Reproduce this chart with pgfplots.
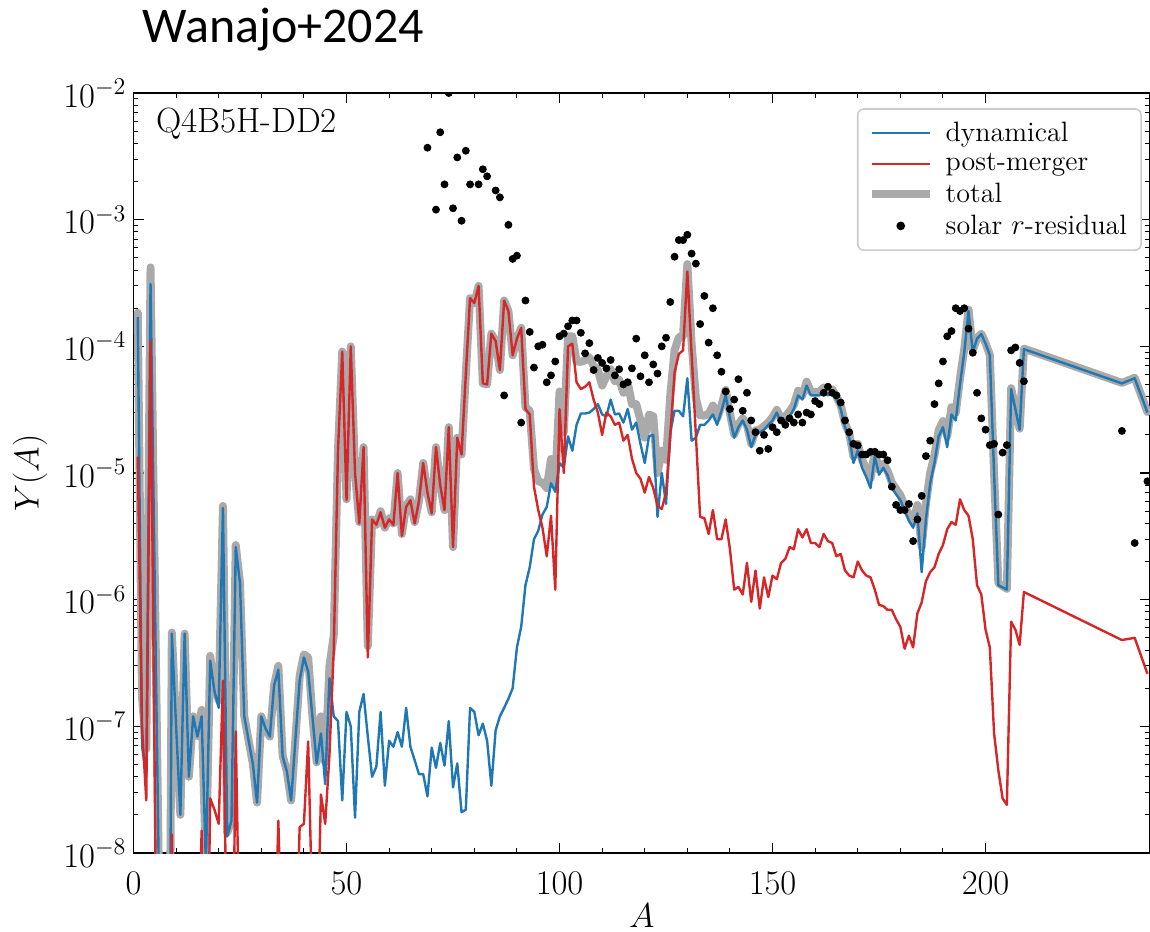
\documentclass[border=0pt]{standalone}
\usepackage{fontspec}
\newfontfamily\titlefont{Carlito}
\usepackage{pgfplots}
\usepackage{pgfplotstable}
\pgfplotsset{compat=1.18}
\definecolor{cblue}{HTML}{1F77B4}
\definecolor{cred}{HTML}{D62728}
\definecolor{cgray}{HTML}{AAAAAA}

\pgfplotstableread{
A dyn pm tot
1 1.7e-4 1.35e-5 1.84e-4
2 7e-8 1e-7 1.7e-7
3 4e-8 2.6e-8 6.6e-8
4 3.1e-4 1.1e-4 4.2e-4
6 5e-9 1e-11 5e-9
7 1e-10 1e-11 1.1e-10
8 1e-12 1e-12 2e-12
9 5.4e-7 1.4e-8 5.5e-7
10 1e-7 1e-10 1e-7
11 2e-8 1e-10 2e-8
12 5.4e-7 2e-9 5.4e-7
13 4e-8 1e-10 4e-8
14 1.2e-7 1e-9 1.2e-7
15 8.3e-8 1e-9 8.4e-8
16 1.2e-7 1.5e-8 1.35e-7
17 8e-9 1e-10 8e-9
18 3.3e-7 2.7e-8 3.6e-7
19 1.9e-7 2.2e-8 2.1e-7
20 1.4e-7 1.7e-8 1.6e-7
21 5.3e-6 2.3e-7 5.5e-6
22 1.35e-8 1e-9 1.45e-8
23 1.8e-8 1e-10 1.8e-8
24 2.6e-6 9.1e-8 2.7e-6
25 1.35e-6 1e-9 1.35e-6
26 1.2e-7 1e-10 1.2e-7
27 7.8e-8 1e-10 7.8e-8
28 5.1e-8 1e-10 5.1e-8
29 2.5e-8 1e-10 2.5e-8
30 1.2e-7 1e-10 1.2e-7
31 9.6e-8 1e-10 9.6e-8
32 8.3e-8 1e-10 8.3e-8
33 2.1e-7 1e-9 2.1e-7
34 2.8e-7 1.8e-8 3.0e-7
35 5.8e-8 1e-9 5.9e-8
36 4.4e-8 1e-10 4.4e-8
37 2.6e-8 1e-10 2.6e-8
38 7.8e-8 1e-9 7.9e-8
39 2.3e-7 1.6e-8 2.5e-7
40 3.5e-7 1.7e-8 3.7e-7
41 2.7e-7 7.6e-8 3.5e-7
42 1.2e-7 3e-9 1.2e-7
43 5.1e-8 1e-9 5.2e-8
44 8.8e-8 2.9e-8 1.2e-7
45 3.5e-8 1.7e-8 5.2e-8
46 2.4e-7 6e-8 3.0e-7
47 1.2e-7 4e-7 5.2e-7
48 1.1e-7 1.5e-5 1.5e-5
49 2.6e-8 9.1e-5 9.1e-5
50 1.3e-7 6.1e-6 6.2e-6
51 1e-7 1e-4 1e-4
52 1.9e-8 1e-5 1e-5
53 1.3e-7 4e-6 4.1e-6
54 1.8e-7 1.6e-5 1.6e-5
55 8.3e-8 3.5e-7 4.3e-7
56 4e-8 4.3e-6 4.3e-6
57 4.8e-8 3.9e-6 3.9e-6
58 1.3e-7 4.9e-6 5.0e-6
59 3.4e-8 3.7e-6 3.7e-6
60 7.7e-8 4.3e-6 4.4e-6
61 6.9e-8 3.9e-6 4.0e-6
62 9e-8 1.0e-5 1.0e-5
63 6.9e-8 3.2e-6 3.3e-6
64 1.4e-7 5.4e-6 5.5e-6
65 6.9e-8 6.1e-6 6.2e-6
66 5.4e-8 4e-6 4.1e-6
67 4.2e-8 6e-6 6.0e-6
68 4.2e-8 1.2e-5 1.2e-5
69 2.8e-8 7e-6 7.0e-6
70 6.8e-8 4.8e-6 4.9e-6
71 4.7e-8 1.6e-5 1.6e-5
72 7.4e-8 8e-6 8.1e-6
73 4.9e-8 5.1e-6 5.1e-6
74 1.1e-7 2.3e-5 2.3e-5
75 3.3e-8 2.6e-6 2.6e-6
76 5.1e-8 1.9e-5 1.9e-5
77 2.1e-8 1.4e-5 1.4e-5
78 2.2e-8 6e-5 6e-5
79 1.4e-7 2.4e-4 2.4e-4
80 1.3e-7 2.2e-4 2.2e-4
81 8.5e-8 3.0e-4 3.0e-4
82 1.05e-7 5.1e-5 5.1e-5
83 7.7e-8 5.0e-5 5.0e-5
84 3.4e-8 1.26e-4 1.26e-4
85 9.3e-8 1.1e-4 1.1e-4
86 1.2e-7 6.5e-5 6.5e-5
87 1.4e-7 2.3e-4 2.3e-4
88 1.65e-7 1.9e-4 1.9e-4
89 2.0e-7 8.5e-5 8.5e-5
90 4.2e-7 1.15e-4 1.15e-4
91 6.1e-7 1.4e-4 1.4e-4
92 1.3e-6 3.2e-5 3.3e-5
93 1.8e-6 2.9e-5 3.1e-5
94 3e-6 7.8e-6 1.08e-5
95 3.5e-6 5.1e-6 8.6e-6
96 4.7e-6 3.7e-6 8.4e-6
97 5.4e-6 2.2e-6 7.6e-6
98 8.3e-6 4.6e-6 1.29e-5
99 7.1e-6 1.2e-6 8.3e-6
100 1.2e-5 3.2e-5 4.4e-5
101 1.1e-5 1e-5 2.1e-5
102 1.95e-5 1e-4 1.2e-4
103 1.5e-5 1.05e-4 1.2e-4
104 2.4e-5 5.2e-5 7.6e-5
105 2.95e-5 4.6e-5 7.55e-5
106 2.95e-5 4.8e-5 7.75e-5
107 3.0e-5 5.2e-5 8.2e-5
108 3.2e-5 3.8e-5 7.0e-5
109 3.5e-5 3e-5 6.5e-5
110 2.9e-5 2e-5 4.9e-5
111 2.8e-5 3e-5 5.8e-5
112 3.8e-5 2.8e-5 6.6e-5
113 2.9e-5 2.4e-5 5.3e-5
114 2.95e-5 2.5e-5 5.45e-5
115 2.5e-5 1.8e-5 4.3e-5
116 3.2e-5 2e-5 5.2e-5
117 2.2e-5 1.3e-5 3.5e-5
118 2.5e-5 1e-5 3.5e-5
119 1.7e-5 9e-6 2.6e-5
120 1.2e-5 7e-6 1.9e-5
121 1.95e-5 9.3e-6 2.9e-5
122 2e-5 7.6e-6 2.8e-5
123 4.5e-6 5.5e-6 1.0e-5
124 1.0e-5 5.2e-6 1.5e-5
125 5.7e-6 7e-6 1.27e-5
126 2.1e-5 2.0e-5 4.1e-5
127 3.1e-5 6.2e-5 9.3e-5
128 3.1e-5 8.7e-5 1.18e-4
129 2.8e-5 9.3e-5 1.21e-4
130 5.6e-5 3.9e-4 4.46e-4
131 1.8e-5 8.7e-5 1.05e-4
132 1.9e-5 2e-5 3.9e-5
133 2.4e-5 4.5e-6 2.85e-5
134 2.4e-5 4.4e-6 2.84e-5
135 2.6e-5 3.3e-6 2.93e-5
136 2.9e-5 5.1e-6 3.41e-5
137 2.4e-5 3e-6 2.7e-5
138 3.1e-5 3e-6 3.4e-5
139 4.1e-5 4.3e-6 4.53e-5
140 2.7e-5 2.5e-6 2.95e-5
141 1.9e-5 1.2e-6 2.02e-5
142 2.3e-5 1.26e-6 2.43e-5
143 2.6e-5 1.1e-6 2.71e-5
144 2.2e-5 1.95e-6 2.4e-5
145 1.6e-5 9.6e-7 1.7e-5
146 2.0e-5 1.7e-6 2.17e-5
147 2.1e-5 8.5e-7 2.19e-5
148 2.2e-5 1.5e-6 2.35e-5
149 2.4e-5 1.05e-6 2.5e-5
150 2.6e-5 1.55e-6 2.76e-5
151 3.0e-5 1.45e-6 3.15e-5
152 2.5e-5 1.95e-6 2.7e-5
153 2.6e-5 2.1e-6 2.8e-5
154 2.8e-5 2.6e-6 3.06e-5
155 3.2e-5 2.5e-6 3.45e-5
156 4.1e-5 3.6e-6 4.46e-5
157 3.8e-5 3.1e-6 4.1e-5
158 4.9e-5 3.6e-6 5.26e-5
159 4.1e-5 2.8e-6 4.38e-5
160 4.1e-5 2.8e-6 4.38e-5
161 4.1e-5 2.6e-6 4.36e-5
162 4.4e-5 3.3e-6 4.73e-5
163 4.1e-5 2.9e-6 4.39e-5
164 4.3e-5 2.8e-6 4.58e-5
165 3.8e-5 2.2e-6 4.02e-5
166 3.2e-5 2.3e-6 3.43e-5
167 2.3e-5 1.7e-6 2.47e-5
168 1.9e-5 1.55e-6 2.05e-5
169 1.2e-5 1.5e-6 1.35e-5
170 1.5e-5 2.0e-6 1.7e-5
171 1.1e-5 1.7e-6 1.27e-5
172 9.3e-6 1.55e-6 1.08e-5
173 7.6e-6 1.5e-6 9.1e-6
174 1.35e-5 1.2e-6 1.47e-5
175 9.7e-6 9.1e-7 1.06e-5
176 1.1e-5 8.9e-7 1.19e-5
177 9.6e-6 8.3e-7 1.04e-5
178 7.6e-6 8.3e-7 8.4e-6
179 6.8e-6 7e-7 7.5e-6
180 6.1e-6 6.1e-7 6.7e-6
181 5.1e-6 4.1e-7 5.5e-6
182 4.2e-6 5.2e-7 4.7e-6
183 3.7e-6 4.2e-7 4.1e-6
184 4.8e-6 7.8e-7 5.6e-6
185 1.65e-6 9.5e-7 2.6e-6
186 4.3e-6 1.4e-6 5.7e-6
187 8.3e-6 1.65e-6 1.0e-5
188 1.2e-5 1.8e-6 1.38e-5
189 1.95e-5 2.3e-6 2.18e-5
190 2.3e-5 2.7e-6 2.57e-5
191 1.6e-5 3.6e-6 1.96e-5
192 2.9e-5 4.1e-6 3.31e-5
193 2.6e-5 3.9e-6 2.99e-5
194 5e-5 6.2e-6 5.6e-5
195 9e-5 5.1e-6 9.5e-5
196 1.9e-4 4.6e-6 1.95e-4
197 9e-5 3e-6 9.3e-5
198 1.15e-4 1.3e-6 1.16e-4
199 1.25e-4 1.1e-6 1.26e-4
200 1.05e-4 5.8e-7 1.06e-4
201 8.5e-5 4.2e-7 8.54e-5
202 1e-5 8.8e-8 1.0e-5
203 1.3e-6 4.5e-8 1.35e-6
204 1.25e-6 2.7e-8 1.28e-6
205 1.2e-6 2.4e-8 1.22e-6
206 4.6e-5 6.7e-7 4.67e-5
207 3.2e-5 5.8e-7 3.26e-5
208 2.2e-5 4.4e-7 2.24e-5
209 9.5e-5 1.15e-6 9.6e-5
232 5.1e-5 4.8e-7 5.15e-5
235 5.6e-5 5e-7 5.65e-5
238 3e-5 2.6e-7 3.03e-5
}\model

\pgfplotstableread{
A Y
69 3.7e-3
71 1.2e-3
72 4.9e-3
73 1.9e-3
74 1.0e-2
75 1.23e-3
76 3.1e-3
77 9.8e-4
78 3.5e-3
79 1.9e-3
81 1.9e-3
82 2.5e-3
83 2.2e-3
85 1.7e-3
86 1.5e-3
87 4.1e-5
88 9.1e-4
89 4.9e-4
90 5.2e-4
91 2.5e-5
92 2.3e-4
93 1.3e-4
94 6.8e-5
95 1.0e-4
96 1.03e-4
97 5.2e-5
98 5.9e-5
99 7.6e-5
100 1.2e-4
101 1.26e-4
102 1.44e-4
103 1.6e-4
104 1.6e-4
105 1.28e-4
106 8.8e-5
107 1.06e-4
108 6.5e-5
109 8.1e-5
110 7.4e-5
111 6.7e-5
112 7.8e-5
113 5.9e-5
114 6.6e-5
115 5.0e-5
116 5.2e-5
117 6.7e-5
118 1.15e-4
119 5.8e-5
120 8.5e-5
121 5.2e-5
122 7.2e-5
123 6.1e-5
124 1.0e-4
125 1.17e-4
126 2.24e-4
127 5.1e-4
128 6.9e-4
129 6.9e-4
130 7.6e-4
131 5.4e-4
132 4.5e-4
133 1.5e-4
134 2.5e-4
135 1.07e-4
136 2.0e-4
137 8.5e-5
138 6.3e-5
139 4.4e-5
140 3.2e-5
141 3.8e-5
142 5.5e-5
143 3.1e-5
144 4.3e-5
145 2.6e-5
146 2.1e-5
147 1.5e-5
148 2.0e-5
149 1.55e-5
150 2.3e-5
151 2.1e-5
152 2.6e-5
153 2.4e-5
154 2.7e-5
155 2.5e-5
156 2.9e-5
157 2.5e-5
158 3.0e-5
159 2.9e-5
160 3.7e-5
161 3.5e-5
162 4.3e-5
163 4.8e-5
164 4.3e-5
165 4.1e-5
166 3.6e-5
167 2.6e-5
168 2.1e-5
169 1.7e-5
170 1.65e-5
171 1.4e-5
172 1.4e-5
173 1.47e-5
174 1.47e-5
175 1.4e-5
176 1.4e-5
177 1.26e-5
178 7.8e-6
179 5.6e-6
180 5.1e-6
181 5.1e-6
182 5.7e-6
183 2.9e-6
184 4.3e-6
185 6.6e-6
186 1.36e-5
187 1.8e-5
188 3.5e-5
189 5.1e-5
190 7.6e-5
191 1.2e-4
192 1.32e-4
193 2.0e-4
194 1.9e-4
195 2.0e-4
196 1.38e-4
197 8.9e-5
198 4.3e-5
199 2.7e-5
200 2.2e-5
201 1.66e-5
202 1.7e-5
203 4.7e-6
204 1.45e-5
205 1.66e-5
206 9.3e-5
207 9.8e-5
208 7.4e-5
209 5.3e-5
232 2.15e-5
235 2.8e-6
238 8.6e-6
}\solar

\begin{document}
\begin{tikzpicture}
\path[use as bounding box] (-66.75pt,-39pt) rectangle (508.25pt,426.5pt);
\begin{axis}[
  at={(0pt,0pt)}, anchor=south west,
  scale only axis, width=508.25pt, height=380pt,
  xmin=0, xmax=238.6, ymode=log, ymin=1e-8, ymax=1e-2,
  xtick={0,50,100,150,200}, minor x tick num=4,
  ytick={1e-8,1e-7,1e-6,1e-5,1e-4,1e-3,1e-2},
  minor ytick={2e-8,3e-8,4e-8,5e-8,6e-8,7e-8,8e-8,9e-8,
    2e-7,3e-7,4e-7,5e-7,6e-7,7e-7,8e-7,9e-7,
    2e-6,3e-6,4e-6,5e-6,6e-6,7e-6,8e-6,9e-6,
    2e-5,3e-5,4e-5,5e-5,6e-5,7e-5,8e-5,9e-5,
    2e-4,3e-4,4e-4,5e-4,6e-4,7e-4,8e-4,9e-4,
    2e-3,3e-3,4e-3,5e-3,6e-3,7e-3,8e-3,9e-3},
  tick align=inside, major tick length=5pt, minor tick length=2.5pt,
  every tick/.style={black, line width=0.7pt},
  every minor tick/.append style={line width=0.5pt},
  axis line style={line width=0.9pt},
  tick label style={font=\fontsize{18}{20}\selectfont},
  xticklabel style={yshift=-6pt},
  label style={font=\fontsize{18}{20}\selectfont},
  xlabel={$A$}, ylabel={$Y(A)$},
  xlabel style={at={(axis description cs:0.5,-0.082)}, anchor=center},
  ylabel style={at={(axis description cs:-0.1018,0.5)}, anchor=center},
  clip marker paths=true,
  legend style={at={(0.992,0.980)}, anchor=north east,
    font=\fontsize{14}{16}\selectfont, draw=black!20, line width=0.8pt,
    rounded corners=3pt, fill=white, inner xsep=5pt, inner ysep=4.5pt,
    row sep=0.6pt, cells={anchor=west}},
  legend image code/.code={\draw[mark repeat=2,mark phase=2,#1]
    plot coordinates {(0pt,0pt) (14.5pt,0pt) (29pt,0pt)};
    \path[draw=none,fill=none] (0pt,0pt) (35pt,0pt);},
]
\addplot[cgray, line width=4pt, line join=round, line cap=round, forget plot]
  table[x=A, y=tot]{\model};
\addplot[cblue, line width=1.2pt, line join=round] table[x=A, y=dyn]{\model};
\addlegendentry{dynamical}
\addplot[cred, line width=1.2pt, line join=round] table[x=A, y=pm]{\model};
\addlegendentry{post-merger}
\addlegendimage{cgray, line width=4pt}
\addlegendentry{total}
\addplot[only marks, mark=*, mark size=1.75pt, black] table[x=A, y=Y]{\solar};
\addlegendentry{solar $r$-residual}
\end{axis}
\node[anchor=base west, font=\fontsize{17.5}{20}\selectfont, inner sep=0pt]
  at (11.25pt,360pt) {Q4B5H-DD2};
\node[anchor=base west, font=\titlefont\fontsize{25}{29}\selectfont, inner sep=0pt]
  at (4.25pt,405pt) {Wanajo+2024};
\end{tikzpicture}
\end{document}
